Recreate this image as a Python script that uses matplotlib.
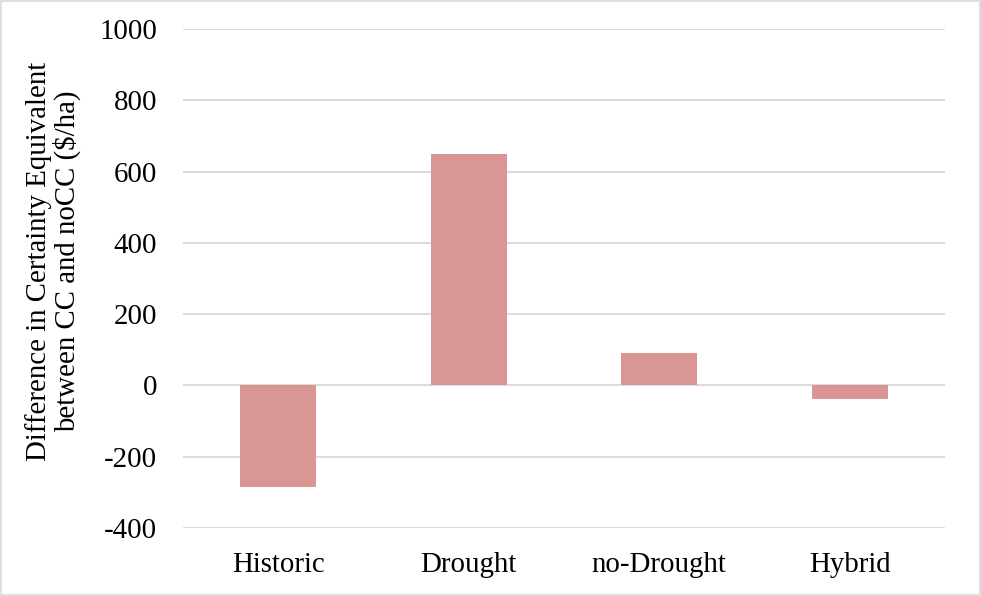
import matplotlib
matplotlib.use("Agg")
import matplotlib.pyplot as plt
from matplotlib.patches import Rectangle

categories = ["Historic", "Drought", "no-Drought", "Hybrid"]
ce_difference = [-285, 649, 91, -39]
y_ticks = [-400, -200, 0, 200, 400, 600, 800, 1000]

plt.rcParams["font.family"] = ["Liberation Serif", "DejaVu Serif"]

W, H = 981, 596
fig = plt.figure(figsize=(W / 100, H / 100), dpi=100)
ax = fig.add_axes([183 / W, 1 - 528 / H, (945 - 183) / W, (528 - 29) / H])

x = range(len(categories))
ax.bar(x, ce_difference, width=0.4, color="#D99694", zorder=3)

ax.set_xlim(-0.5, len(categories) - 0.5)
ax.set_ylim(-400, 1000)
ax.set_yticks(y_ticks)
ax.set_yticklabels([str(v) for v in y_ticks], fontsize=20.8)
ax.set_xticks(list(x))
ax.set_xticklabels(categories, fontsize=20.8)
ax.tick_params(axis="y", length=0, pad=18.5)
ax.tick_params(axis="x", length=0, pad=17)
ax.grid(axis="y", color="#D9D9D9", linewidth=1.3, zorder=0)
for s in ax.spines.values():
    s.set_visible(False)

fig.text(53 / W, 1 - 261 / H,
         "Difference in Certainty Equivalent\nbetween CC and noCC ($/ha)",
         rotation=90, ha="center", va="center", fontsize=20.8,
         linespacing=1.05, multialignment="center")

fig.patches.append(Rectangle((0.001, 0.001), 0.998, 0.997, transform=fig.transFigure,
                             fill=False, edgecolor="#D9D9D9", linewidth=1.2))

fig.savefig("out.png", dpi=100, facecolor="white")
